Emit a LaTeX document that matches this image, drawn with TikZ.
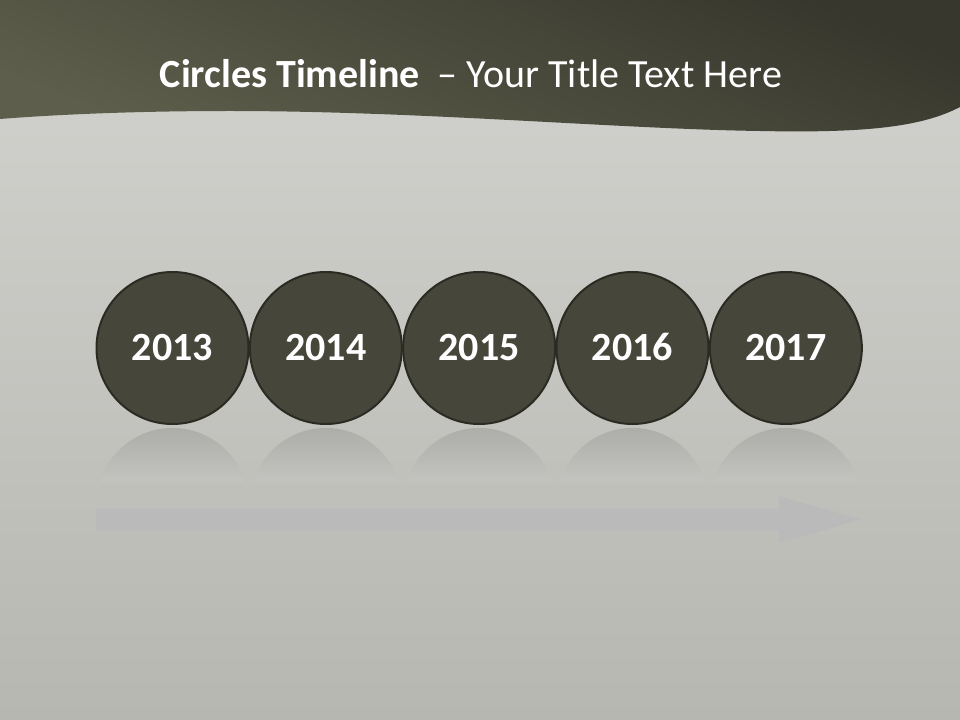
\documentclass[tikz,border=0pt]{standalone}
\usepackage{fontspec}
\setmainfont{Carlito}
\usepackage{xcolor}
\usetikzlibrary{positioning, calc}

\definecolor{hdrdark}{HTML}{37372D}
\definecolor{hdrlight}{HTML}{5E5E4C}
\definecolor{bgtop}{HTML}{D3D3CF}
\definecolor{bgmid}{HTML}{C7C7C4}
\definecolor{bgbot}{HTML}{B7B7B2}
\definecolor{discfill}{HTML}{46463A}
\definecolor{discline}{HTML}{2B2B23}
\definecolor{reflgray}{HTML}{A9A9A5}
\definecolor{reflfade}{HTML}{C3C3C0}
\definecolor{arrowgray}{HTML}{BABABA}

\begin{document}
\begin{tikzpicture}[
  x=0.75pt, y=-0.75pt,
  year/.style={
    circle,
    draw=discline,
    line width=1.5pt,
    fill=discfill,
    minimum size=114pt,
    inner sep=0pt,
    text height=19pt,
    text depth=0pt,
    text=white,
    font=\fontsize{30}{36}\selectfont\bfseries
  },
  refl/.style={top color=reflgray, bottom color=reflfade},
  headline/.style={text=white, font=\fontsize{30}{36}\selectfont, anchor=base}
]
\useasboundingbox (0,0) rectangle (960,720);
\shade[top color=bgtop, middle color=bgmid, bottom color=bgbot] (0,0) rectangle (960,720);

\shade[top color=hdrdark, bottom color=hdrlight, shading angle=-22]
  (0,0) -- (960,0) -- (960,107)
  .. controls (920,128) and (860,133) .. (760,131)
  .. controls (620,129) and (420,111) .. (230,111)
  .. controls (130,111) and (50,115) .. (0,119) -- cycle;

\node[headline] (title) at (471,88)
  {\textbf{Circles Timeline}\ \ -- Your Title Text Here};

\node[year] (y2013) at (172.5,348) {2013};
\node[year, right=-0.5pt of y2013] (y2014) {2014};
\node[year, right=-0.5pt of y2014] (y2015) {2015};
\node[year, right=-0.5pt of y2015] (y2016) {2016};
\node[year, right=-0.5pt of y2016] (y2017) {2017};

\shade[refl] ($(y2013.center)+(-72.7,134)$) arc[start angle=196.8, end angle=343.2, radius=76] -- cycle;
\shade[refl] ($(y2014.center)+(-72.7,134)$) arc[start angle=196.8, end angle=343.2, radius=76] -- cycle;
\shade[refl] ($(y2015.center)+(-72.7,134)$) arc[start angle=196.8, end angle=343.2, radius=76] -- cycle;
\shade[refl] ($(y2016.center)+(-72.7,134)$) arc[start angle=196.8, end angle=343.2, radius=76] -- cycle;
\shade[refl] ($(y2017.center)+(-72.7,134)$) arc[start angle=196.8, end angle=343.2, radius=76] -- cycle;

\fill[arrowgray] (96,508.5) -- (779,508.5) -- (779,496) -- (861,519.5)
  -- (779,543) -- (779,530.5) -- (96,530.5) -- cycle;
\end{tikzpicture}
\end{document}
